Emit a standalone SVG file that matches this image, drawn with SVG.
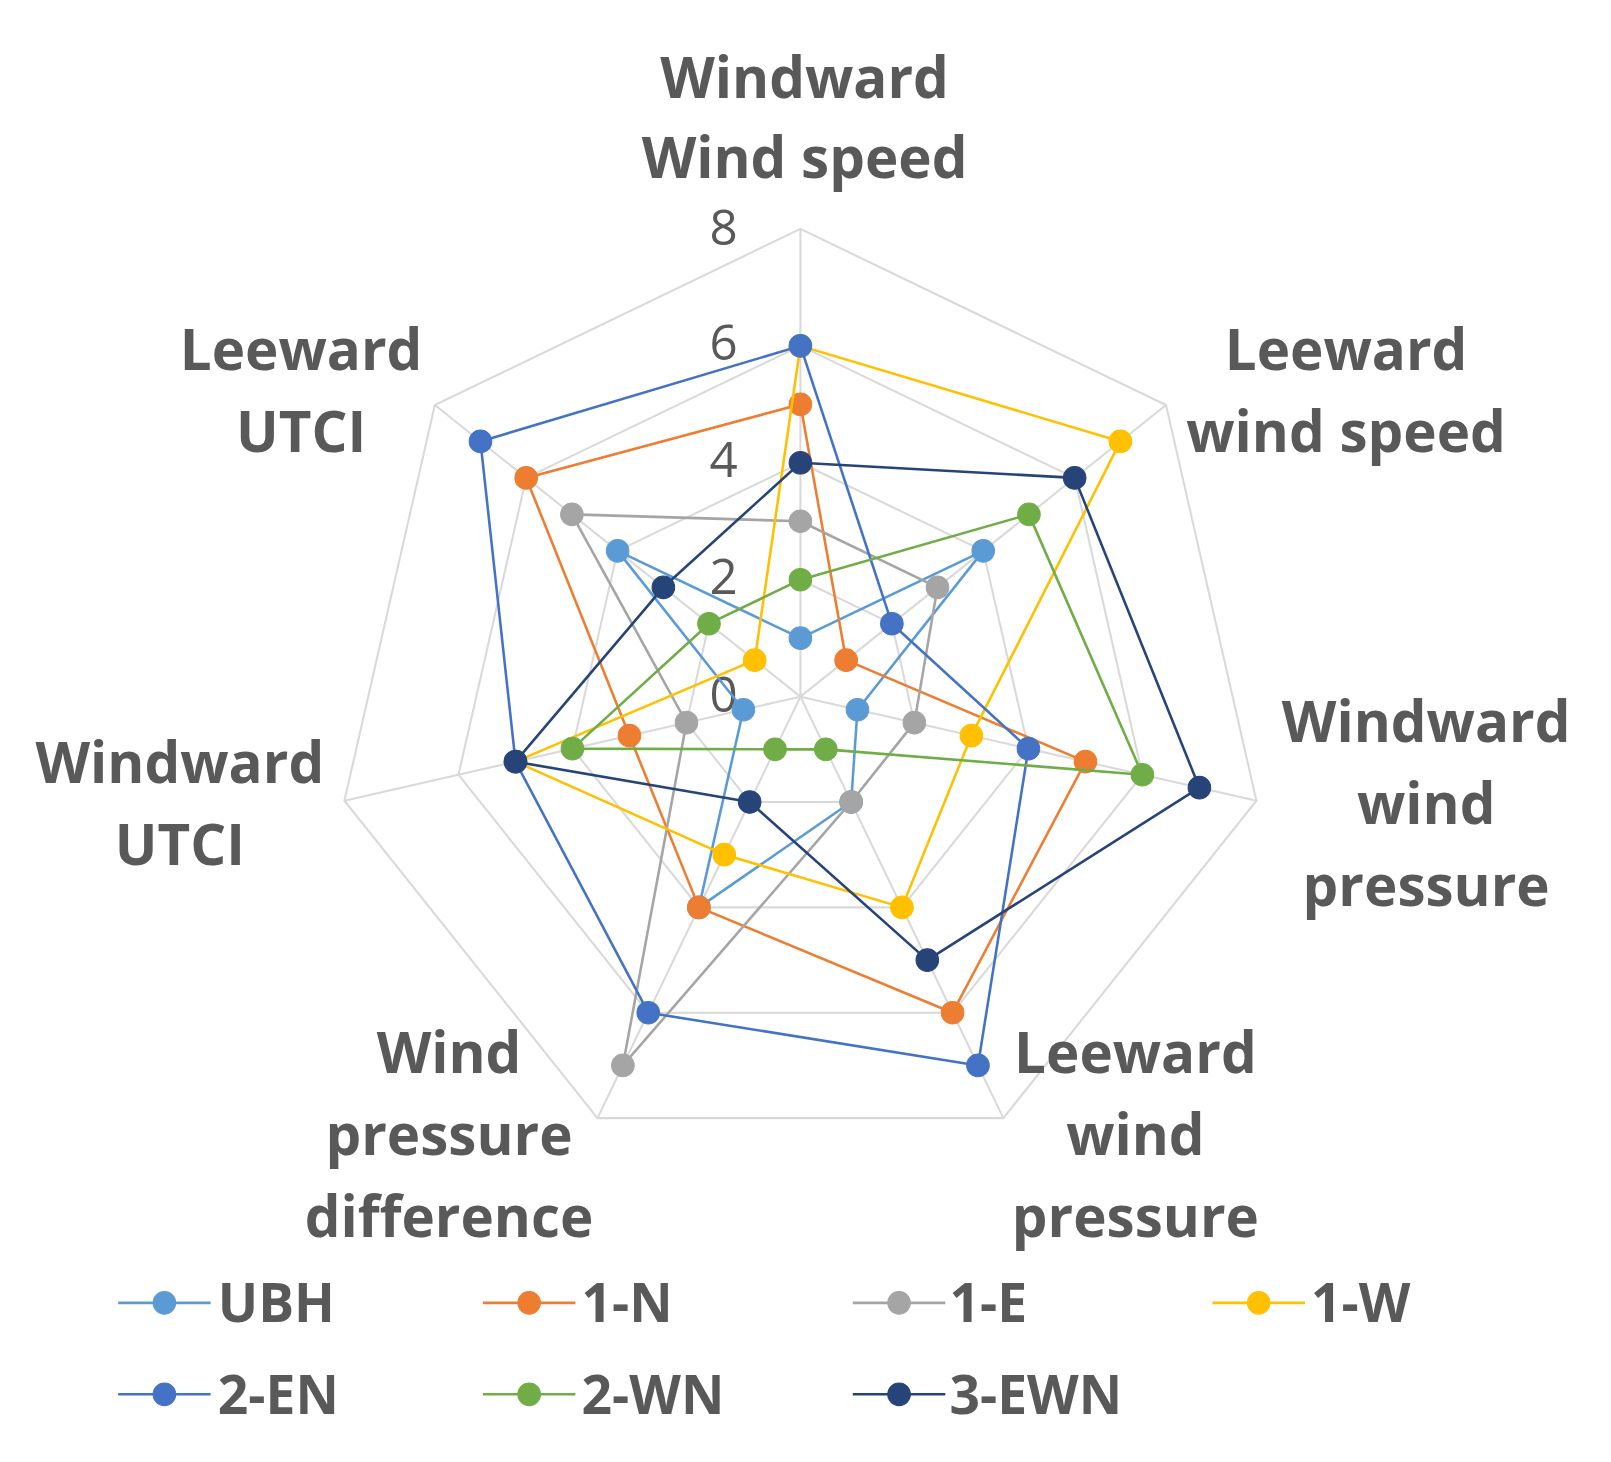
<svg xmlns="http://www.w3.org/2000/svg" width="1611" height="1462" viewBox="0 0 1611 1462">
<style>
.grid{fill:none;stroke:#d9d9d9;stroke-width:2}
.s{fill:none;stroke-width:2.5;stroke-linejoin:round}
.lab{font-family:"Open Sans","Liberation Sans",sans-serif;font-weight:bold;font-size:55px;fill:#595959;text-anchor:middle}
.tick{font-family:"Open Sans","Liberation Sans",sans-serif;font-size:48px;fill:#595959;text-anchor:end}
.leg{font-family:"Open Sans","Liberation Sans",sans-serif;font-weight:bold;font-size:52px;fill:#595959}
</style>
<rect width="1611" height="1462" fill="#fff"/>
<g transform="scale(1.0275)">
<g id="grid">
<polygon class="grid" points="779,222.8 1134.8,394.2 1222.8,779.3 976.5,1088.2 581.5,1088.2 335.2,779.3 423.2,394.2"/>
<polygon class="grid" points="779,336.6 1045.9,465.1 1111.8,754.0 927.1,985.6 630.9,985.6 446.2,754.0 512.1,465.1"/>
<polygon class="grid" points="779,450.4 956.9,536.1 1000.9,728.6 877.8,883.1 680.2,883.1 557.1,728.6 601.1,536.1"/>
<polygon class="grid" points="779,564.2 868,607.0 889.9,703.3 828.4,780.5 729.6,780.5 668.1,703.3 690.0,607.0"/>
<path class="grid" d="M779,678L779,222.8M779,678L1134.8,394.2M779,678L1222.8,779.3M779,678L976.5,1088.2M779,678L581.5,1088.2M779,678L335.2,779.3M779,678L423.2,394.2"/>
</g>
<g id="ticks">
<text class="tick" x="718" y="238">8</text>
<text class="tick" x="718" y="350">6</text>
<text class="tick" x="718" y="464">4</text>
<text class="tick" x="718" y="578">2</text>
<text class="tick" x="718" y="693">0</text>
</g>
<g id="labels">
<text class="lab" x="783" y="95">Windward</text><text class="lab" x="783" y="173">Wind speed</text>
<text class="lab" x="1310" y="360">Leeward</text><text class="lab" x="1310" y="440">wind speed</text>
<text class="lab" x="1388" y="722">Windward</text><text class="lab" x="1388" y="802">wind</text><text class="lab" x="1388" y="882">pressure</text>
<text class="lab" x="1105" y="1044">Leeward</text><text class="lab" x="1105" y="1124">wind</text><text class="lab" x="1105" y="1204">pressure</text>
<text class="lab" x="437" y="1044">Wind</text><text class="lab" x="437" y="1124">pressure</text><text class="lab" x="437" y="1204">difference</text>
<text class="lab" x="175" y="762">Windward</text><text class="lab" x="175" y="842">UTCI</text>
<text class="lab" x="293" y="360">Leeward</text><text class="lab" x="293" y="440">UTCI</text>
</g>
<g id="series">
<g id="UBH" stroke="#5B9BD5" fill="#5B9BD5"><polygon class="s" points="779,621.1 956.9,536.1 834.5,690.7 828.4,780.5 680.2,883.1 723.5,690.7 601.1,536.1"/>
<circle cx="779" cy="621.1" r="11"/><circle cx="956.9" cy="536.1" r="11"/><circle cx="834.5" cy="690.7" r="11"/><circle cx="828.4" cy="780.5" r="11"/><circle cx="680.2" cy="883.1" r="11"/><circle cx="723.5" cy="690.7" r="11"/><circle cx="601.1" cy="536.1" r="11"/></g>
<g id="N1" stroke="#ED7D31" fill="#ED7D31"><polygon class="s" points="779,393.5 823.5,642.5 1056.4,741.3 927.1,985.6 680.2,883.1 612.6,716.0 512.1,465.1"/>
<circle cx="779" cy="393.5" r="11"/><circle cx="823.5" cy="642.5" r="11"/><circle cx="1056.4" cy="741.3" r="11"/><circle cx="927.1" cy="985.6" r="11"/><circle cx="680.2" cy="883.1" r="11"/><circle cx="612.6" cy="716" r="11"/><circle cx="512.1" cy="465.1" r="11"/></g>
<g id="E1" stroke="#A5A5A5" fill="#A5A5A5"><polygon class="s" points="779,507.3 912.4,571.6 889.9,703.3 828.4,780.5 606.2,1036.9 668.1,703.3 556.6,500.6"/>
<circle cx="779" cy="507.3" r="11"/><circle cx="912.4" cy="571.6" r="11"/><circle cx="889.9" cy="703.3" r="11"/><circle cx="828.4" cy="780.5" r="11"/><circle cx="606.2" cy="1036.9" r="11"/><circle cx="668.1" cy="703.3" r="11"/><circle cx="556.6" cy="500.6" r="11"/></g>
<g id="W1" stroke="#FFC000" fill="#FFC000"><polygon class="s" points="779,336.6 1090.4,429.6 945.4,716.0 877.8,883.1 704.9,831.8 501.7,741.3 734.5,642.5"/>
<circle cx="779" cy="336.6" r="11"/><circle cx="1090.4" cy="429.6" r="11"/><circle cx="945.4" cy="716" r="11"/><circle cx="877.8" cy="883.1" r="11"/><circle cx="704.9" cy="831.8" r="11"/><circle cx="501.7" cy="741.3" r="11"/><circle cx="734.5" cy="642.5" r="11"/></g>
<g id="EN2" stroke="#4472C4" fill="#4472C4"><polygon class="s" points="779,336.6 868,607.0 1000.9,728.6 951.8,1036.9 630.9,985.6 501.7,741.3 467.6,429.6"/>
<circle cx="779" cy="336.6" r="11"/><circle cx="868" cy="607" r="11"/><circle cx="1000.9" cy="728.6" r="11"/><circle cx="951.8" cy="1036.9" r="11"/><circle cx="630.9" cy="985.6" r="11"/><circle cx="501.7" cy="741.3" r="11"/><circle cx="467.6" cy="429.6" r="11"/></g>
<g id="WN2" stroke="#70AD47" fill="#70AD47"><polygon class="s" points="779,564.2 1001.4,500.6 1111.8,754.0 803.7,729.3 754.3,729.3 557.1,728.6 690.0,607.0"/>
<circle cx="779" cy="564.2" r="11"/><circle cx="1001.4" cy="500.6" r="11"/><circle cx="1111.8" cy="754" r="11"/><circle cx="803.7" cy="729.3" r="11"/><circle cx="754.3" cy="729.3" r="11"/><circle cx="557.1" cy="728.6" r="11"/><circle cx="690" cy="607" r="11"/></g>
<g id="EWN3" stroke="#264478" fill="#264478"><polygon class="s" points="779,450.4 1045.9,465.1 1167.3,766.6 902.5,934.4 729.6,780.5 501.7,741.3 645.6,571.6"/>
<circle cx="779" cy="450.4" r="11"/><circle cx="1045.9" cy="465.1" r="11"/><circle cx="1167.3" cy="766.6" r="11"/><circle cx="902.5" cy="934.4" r="11"/><circle cx="729.6" cy="780.5" r="11"/><circle cx="501.7" cy="741.3" r="11"/><circle cx="645.6" cy="571.6" r="11"/></g>
</g>
<g id="legend">
<g stroke="#5B9BD5" fill="#5B9BD5"><line x1="115" y1="1268" x2="205" y2="1268" stroke-width="2.5"/><circle cx="160" cy="1268" r="11"/></g><text class="leg" x="212" y="1287">UBH</text>
<g stroke="#ED7D31" fill="#ED7D31"><line x1="470" y1="1268" x2="560" y2="1268" stroke-width="2.5"/><circle cx="515" cy="1268" r="11"/></g><text class="leg" x="566" y="1287">1-N</text>
<g stroke="#A5A5A5" fill="#A5A5A5"><line x1="830" y1="1268" x2="920" y2="1268" stroke-width="2.5"/><circle cx="875" cy="1268" r="11"/></g><text class="leg" x="924" y="1287">1-E</text>
<g stroke="#FFC000" fill="#FFC000"><line x1="1180" y1="1268" x2="1270" y2="1268" stroke-width="2.5"/><circle cx="1225" cy="1268" r="11"/></g><text class="leg" x="1276" y="1287">1-W</text>
<g stroke="#4472C4" fill="#4472C4"><line x1="115" y1="1357" x2="205" y2="1357" stroke-width="2.5"/><circle cx="160" cy="1357" r="11"/></g><text class="leg" x="212" y="1376">2-EN</text>
<g stroke="#70AD47" fill="#70AD47"><line x1="470" y1="1357" x2="560" y2="1357" stroke-width="2.5"/><circle cx="515" cy="1357" r="11"/></g><text class="leg" x="566" y="1376">2-WN</text>
<g stroke="#264478" fill="#264478"><line x1="830" y1="1357" x2="920" y2="1357" stroke-width="2.5"/><circle cx="875" cy="1357" r="11"/></g><text class="leg" x="924" y="1376">3-EWN</text>
</g>
</g>
</svg>
